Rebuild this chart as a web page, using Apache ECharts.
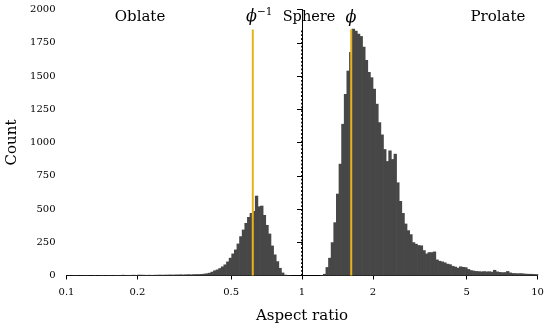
<!DOCTYPE html>
<html><head><meta charset="utf-8">
<script src="https://cdn.jsdelivr.net/npm/echarts@6/dist/echarts.min.js"></script>
<style>html,body{margin:0;padding:0;background:#fff}#c{width:550px;height:329px}</style>
</head><body><div id="c"></div>
<script>
// ---- data ----
const tickValues = [0.1, 0.2, 0.5, 1, 2, 5, 10];
const tickLabels = ['0.1', '0.2', '0.5', '1', '2', '5', '10'];
const binStart = 0.1;          // aspect ratio at left edge of first bin
const binsPerDecade = 90;      // log-spaced bins
const counts = [
  2,1,2,3,1,2,2,3,2,1, 3,2,2,4,2,3,3,2,4,3, 3,5,3,4,4,5,4,6,5,5,
  4,5,4,5,5,6,5,6,6,7, 6,7,7,8,7,8,9,8,9,10, 10,11,13,16,20,28,38,45,55,68,
  83,105,133,165,195,240,295,345,395,440, 470,485,600,520,525,455,380,315,225,158,
  107,57,22,6,2,1,0,0,0,0, 0,0,0,0,0,0,0,3,12,63,
  133,250,400,615,840,1140,1365,1540,1680,1855, 1840,1818,1800,1720,1620,1530,1490,1404,1291,1153,
  1060,950,860,940,875,915,700,560,470,390, 340,310,250,238,228,226,190,165,175,175,
  180,120,110,105,98,88,84,72,66,58, 68,64,62,48,40,36,33,32,30,32,
  30,31,28,42,30,26,24,25,33,22, 18,17,16,17,15,13,12,12,11,10
];
const goldenRatios = [0.618, 1.618];   // phi^-1, phi
const sphereRatio = [1];
const lineTop = 1850;

// ---- build ----
const lg = v => Math.round(Math.log10(v) * 1e9) / 1e9;
const x0 = lg(binStart);
const barData = counts.map((c, i) => [x0 + i / binsPerDecade, x0 + (i + 1) / binsPerDecade, c]);
const FONT = 'DejaVu Serif';
const BAR = '#474747';
const GOLD = '#E8B11C';

const chart = echarts.init(document.getElementById('c'));
chart.setOption({
  animation: false,
  backgroundColor: '#fff',
  grid: { left: 66.5, right: 12.5, top: 9.5, bottom: 53.5, containLabel: false, outerBoundsMode: 'none' },
  xAxis: {
    type: 'value', min: lg(tickValues[0]), max: lg(tickValues[tickValues.length - 1]),
    name: 'Aspect ratio', nameLocation: 'middle', nameGap: 33,
    nameTextStyle: { fontFamily: FONT, fontSize: 15, color: '#000' },
    axisLine: { show: true, lineStyle: { color: '#000', width: 1 } },
    axisTick: { show: true, length: 4, lineStyle: { color: '#000' }, customValues: tickValues.map(lg) },
    axisLabel: {
      fontFamily: FONT, fontSize: 10, color: '#000', margin: 12,
      customValues: tickValues.map(lg),
      formatter: v => { const i = tickValues.findIndex(t => Math.abs(lg(t) - v) < 1e-6); return i >= 0 ? tickLabels[i] : ''; }
    },
    splitLine: { show: false }
  },
  yAxis: {
    type: 'value', min: 0, max: 2000, interval: 250,
    name: 'Count', nameLocation: 'middle', nameGap: 47,
    nameTextStyle: { fontFamily: FONT, fontSize: 15, color: '#000' },
    axisLine: { show: true, lineStyle: { color: '#000', width: 1 } },
    axisTick: { show: true, length: 5, lineStyle: { color: '#000' } },
    axisLabel: { fontFamily: FONT, fontSize: 10, color: '#000', margin: 11, formatter: v => String(v) },
    splitLine: { show: false }
  },
  series: [
    {
      type: 'custom',
      data: barData,
      encode: { x: [0, 1], y: 2 },
      renderItem: (params, api) => {
        const p0 = api.coord([api.value(0), 0]);
        const p1 = api.coord([api.value(1), api.value(2)]);
        return {
          type: 'rect',
          shape: { x: p0[0], y: p1[1], width: p1[0] - p0[0] + 0.7, height: p0[1] - p1[1] },
          style: { fill: BAR }
        };
      },
      z: 1
    },
    ...goldenRatios.map(r => ({
      type: 'line', data: [[lg(r), 0], [lg(r), lineTop]], symbol: 'none',
      lineStyle: { color: GOLD, width: 2 }, z: 3
    })),
    ...sphereRatio.map(r => ({
      type: 'line', data: [[lg(r), 0], [lg(r), lineTop]], symbol: 'none',
      lineStyle: { color: '#000', width: 1.8, type: [1.8, 2], cap: 'butt' }, z: 3
    }))
  ],
  graphic: [
    { type: 'text', x: 140, y: 17, style: { text: 'Oblate', align: 'center', verticalAlign: 'middle', fontFamily: FONT, fontSize: 15, fill: '#000' } },
    { type: 'text', x: 309, y: 17, style: { text: 'Sphere', align: 'center', verticalAlign: 'middle', fontFamily: FONT, fontSize: 14.5, fill: '#000' } },
    { type: 'text', x: 498, y: 17, style: { text: 'Prolate', align: 'center', verticalAlign: 'middle', fontFamily: FONT, fontSize: 15, fill: '#000' } },
    { type: 'text', x: 246, y: 17, style: { text: '{a|ϕ}{b|−1}', align: 'left', verticalAlign: 'middle', fill: '#000',
        rich: { a: { fontFamily: FONT, fontStyle: 'italic', fontSize: 16, lineHeight: 20 }, b: { fontFamily: FONT, fontSize: 10.5, verticalAlign: 'top', lineHeight: 11 } } } },
    { type: 'text', x: 351, y: 18, style: { text: 'ϕ', align: 'center', verticalAlign: 'middle', fontFamily: FONT, fontStyle: 'italic', fontSize: 16, fill: '#000' } }
  ]
});
</script></body></html>
